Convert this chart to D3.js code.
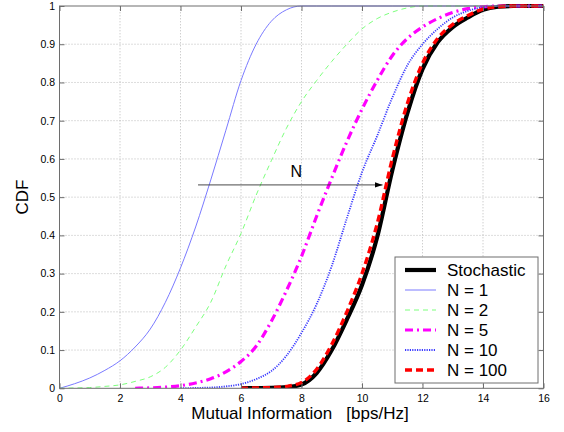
<!DOCTYPE html>
<html>
<head>
<meta charset="utf-8">
<script src="https://cdn.jsdelivr.net/npm/d3@7"></script>
<style>
  body { margin: 0; background: #fff; }
  text { font-family: "Liberation Sans", Arial, sans-serif; }
</style>
</head>
<body>
<div id="vis"></div>
<script>
// CDF of mutual information, stochastic channel vs N-path approximations

// shared x grid (bps/Hz), step 0.5
var xGrid = d3.range(0, 16.01, 0.5);

// CDF values (null = not drawn)
var cdfStochastic = [null, null, null, null, null, null, null, null, null, null, null, null,
    0, 0.0005, 0.001, 0.003, 0.01, 0.04, 0.1, 0.18, 0.27, 0.395, 0.57, 0.72, 0.835, 0.905,
    0.945, 0.97, 0.99, 0.998, 1, 1, 1];
var cdfN1 = [0, 0.012, 0.027, 0.047, 0.072, 0.108, 0.155, 0.225, 0.315, 0.422, 0.545, 0.675,
    0.805, 0.9, 0.96, 0.99, 1, 1, 1, 1, 1, 1, 1, 1, 1, 1, 1, 1, 1, 1, 1, 1, 1];
var cdfN2 = [0, 0.001, 0.002, 0.005, 0.009, 0.018, 0.03, 0.055, 0.1, 0.16, 0.225, 0.32, 0.405,
    0.505, 0.595, 0.68, 0.75, 0.805, 0.855, 0.9, 0.94, 0.967, 0.984, 0.995, 1, 1, 1, 1, 1, 1, 1, 1, 1];
var cdfN5 = [null, null, null, null, null, 0, 0.001, 0.003, 0.007, 0.014, 0.025, 0.043, 0.07,
    0.11, 0.175, 0.255, 0.345, 0.45, 0.55, 0.645, 0.73, 0.805, 0.87, 0.915, 0.945, 0.967, 0.983,
    0.993, 0.998, 1, 1, 1, 1];
var cdfN10 = [null, null, null, null, null, null, null, null, 0, 0.001, 0.002, 0.005, 0.011,
    0.024, 0.045, 0.085, 0.145, 0.22, 0.32, 0.445, 0.565, 0.66, 0.76, 0.845, 0.9, 0.94, 0.97,
    0.987, 0.997, 1, 1, 1, 1];
var cdfN100 = [null, null, null, null, null, null, null, null, null, null, null, null,
    0, 0.001, 0.002, 0.005, 0.015, 0.05, 0.115, 0.2, 0.3, 0.43, 0.6, 0.745, 0.85, 0.915,
    0.952, 0.975, 0.992, 0.998, 1, 1, 1];

var seriesNames = ["Stochastic", "N = 1", "N = 2", "N = 5", "N = 10", "N = 100"];
var seriesValues = [cdfStochastic, cdfN1, cdfN2, cdfN5, cdfN10, cdfN100];

var xTicks = [0, 2, 4, 6, 8, 10, 12, 14, 16];
var yTicks = [0, 0.1, 0.2, 0.3, 0.4, 0.5, 0.6, 0.7, 0.8, 0.9, 1];

// line styles per series
var styles = [
    { color: "#000000", width: 4.2, dash: null },
    { color: "#7a7aff", width: 1, dash: null },
    { color: "#7dff7d", width: 1, dash: "5,4" },
    { color: "#ff00ff", width: 3.2, dash: "8,4,2,4" },
    { color: "#3a3aff", width: 1.8, dash: "1.2,1.2" },
    { color: "#ff0000", width: 3.4, dash: "7,4" }
];

var width = 564, height = 432;
var margin = { top: 6, right: 20.5, bottom: 43.7, left: 59.5 };

var svg = d3.select("#vis").append("svg")
    .attr("width", width)
    .attr("height", height);

svg.append("rect").attr("width", width).attr("height", height).attr("fill", "white");

var x = d3.scaleLinear().domain([0, 16]).range([margin.left, width - margin.right]);
var y = d3.scaleLinear().domain([0, 1]).range([height - margin.bottom, margin.top]);

// grid
svg.append("g").selectAll("line.vg")
    .data(xTicks.slice(1, -1))
    .enter().append("line")
    .attr("x1", d => x(d)).attr("x2", d => x(d))
    .attr("y1", y(0)).attr("y2", y(1))
    .attr("stroke", "#aaa").attr("stroke-width", 0.8)
    .attr("stroke-dasharray", "1,2");
svg.append("g").selectAll("line.hg")
    .data(yTicks.slice(1, -1))
    .enter().append("line")
    .attr("x1", x(0)).attr("x2", x(16))
    .attr("y1", d => y(d)).attr("y2", d => y(d))
    .attr("stroke", "#aaa").attr("stroke-width", 0.8)
    .attr("stroke-dasharray", "1,2");

// curves
var line = d3.line()
    .defined(d => d[1] !== null)
    .x(d => x(d[0]))
    .y(d => y(d[1]))
    .curve(d3.curveMonotoneX);

svg.append("clipPath").attr("id", "clip")
    .append("rect")
    .attr("x", x(0)).attr("y", y(1) - 3)
    .attr("width", x(16) - x(0)).attr("height", y(0) - y(1) + 3);

var plot = svg.append("g").attr("clip-path", "url(#clip)");
seriesValues.forEach(function(vals, i) {
    plot.append("path")
        .datum(xGrid.map((g, j) => [g, vals[j]]))
        .attr("d", line)
        .attr("fill", "none")
        .attr("stroke", styles[i].color)
        .attr("stroke-width", styles[i].width)
        .attr("stroke-dasharray", styles[i].dash);
});

// axes box with inward ticks
var axisColor = "#6e6e6e";
svg.append("g")
    .attr("transform", "translate(0," + y(0) + ")")
    .call(d3.axisBottom(x).tickValues(xTicks).tickSizeInner(-5).tickSizeOuter(0).tickPadding(6.5))
    .call(g => g.select(".domain").remove());
svg.append("g")
    .attr("transform", "translate(0," + y(1) + ")")
    .call(d3.axisTop(x).tickValues(xTicks).tickSizeInner(-5).tickSizeOuter(0).tickFormat(""))
    .call(g => g.select(".domain").remove());
svg.append("g")
    .attr("transform", "translate(" + x(0) + ",0)")
    .call(d3.axisLeft(y).tickValues(yTicks).tickSizeInner(-5).tickSizeOuter(0).tickPadding(4.5)
        .tickFormat(d3.format("~g")))
    .call(g => g.select(".domain").remove());
svg.append("g")
    .attr("transform", "translate(" + x(16) + ",0)")
    .call(d3.axisRight(y).tickValues(yTicks).tickSizeInner(-5).tickSizeOuter(0).tickFormat(""))
    .call(g => g.select(".domain").remove());

svg.selectAll(".tick line").attr("stroke", axisColor);
svg.selectAll(".tick text")
    .attr("font-family", "Liberation Sans, Arial, sans-serif")
    .attr("font-size", "10.5px")
    .attr("fill", "#000");

svg.append("rect")
    .attr("x", x(0)).attr("y", y(1))
    .attr("width", x(16) - x(0)).attr("height", y(0) - y(1))
    .attr("fill", "none").attr("stroke", axisColor).attr("stroke-width", 1);

// axis labels
svg.append("text")
    .attr("x", 300).attr("y", 419)
    .attr("text-anchor", "middle")
    .attr("font-size", "17px")
    .style("white-space", "pre")
    .text("Mutual Information   [bps/Hz]");
svg.append("text")
    .attr("transform", "translate(28," + 197 + ") rotate(-90)")
    .attr("text-anchor", "middle")
    .attr("font-size", "17px")
    .text("CDF");

// arrow annotation
svg.append("defs").append("marker")
    .attr("id", "arrow")
    .attr("viewBox", "0 0 10 10")
    .attr("refX", 10).attr("refY", 5)
    .attr("markerWidth", 8).attr("markerHeight", 8)
    .attr("markerUnits", "userSpaceOnUse")
    .attr("orient", "auto")
    .append("path").attr("d", "M0,1.5L10,5L0,8.5Z").attr("fill", "#000");
svg.append("line")
    .attr("x1", x(4.58)).attr("x2", x(10.68))
    .attr("y1", y(0.532)).attr("y2", y(0.532))
    .attr("stroke", "#333").attr("stroke-width", 0.9)
    .attr("marker-end", "url(#arrow)");
svg.append("text")
    .attr("x", x(7.83)).attr("y", y(0.552))
    .attr("text-anchor", "middle")
    .attr("font-size", "16px")
    .text("N");

// legend
var legend = svg.append("g").attr("transform", "translate(395,257)");
legend.append("rect")
    .attr("width", 143).attr("height", 126)
    .attr("fill", "white").attr("stroke", axisColor).attr("stroke-width", 1);
seriesNames.forEach(function(name, i) {
    var ly = 13 + i * 20;
    legend.append("line")
        .attr("x1", 10).attr("x2", 41)
        .attr("y1", ly).attr("y2", ly)
        .attr("stroke", styles[i].color)
        .attr("stroke-width", styles[i].width)
        .attr("stroke-dasharray", styles[i].dash);
    legend.append("text")
        .attr("x", 52).attr("y", ly + 6)
        .attr("font-size", "17px")
        .text(name);
});
</script>
</body>
</html>
